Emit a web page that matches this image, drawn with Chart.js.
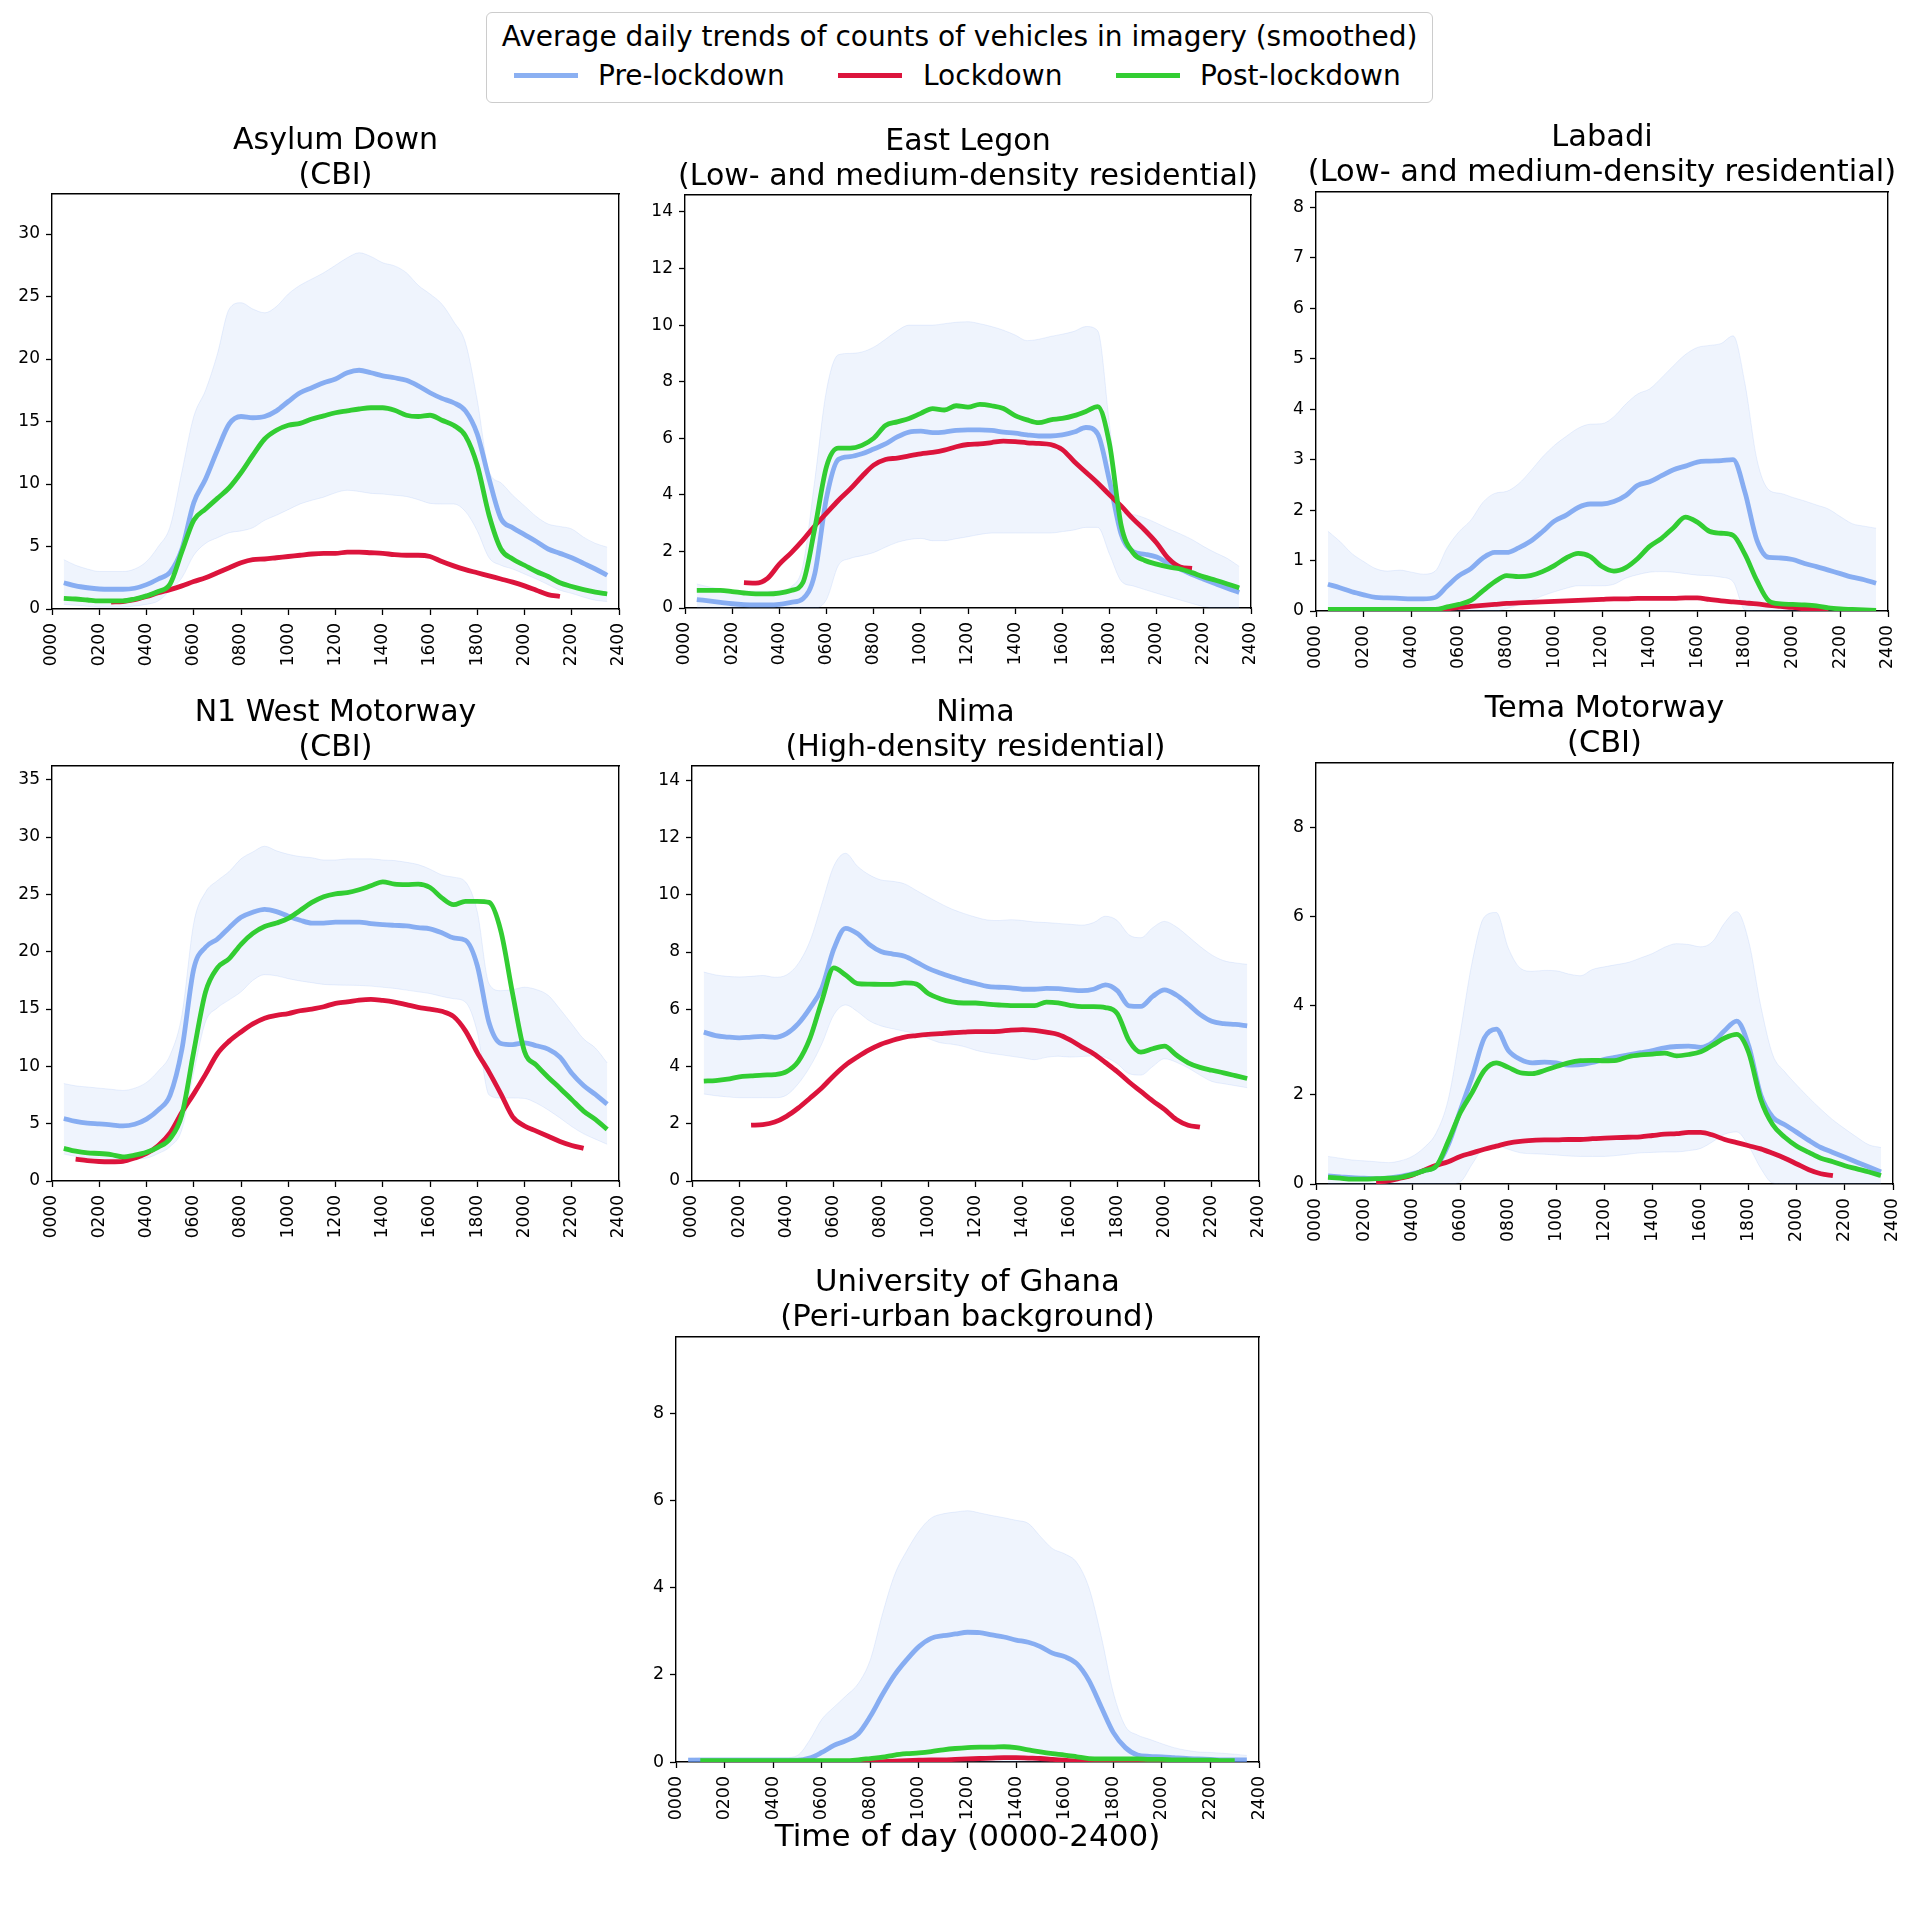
<!DOCTYPE html>
<html>
<head>
<meta charset="utf-8">
<script src="https://cdn.jsdelivr.net/npm/chart.js@4.4.1/dist/chart.umd.min.js"></script>
<style>
html,body{margin:0;padding:0;background:#fff;}
body{width:1920px;height:1920px;position:relative;overflow:hidden;font-family:'DejaVu Sans',sans-serif;}
canvas{position:absolute;}
#legend{position:absolute;left:486px;top:12px;width:947px;height:91px;box-sizing:border-box;border:1px solid #cccccc;border-radius:6px;background:#fff;}
#legend .lt{position:absolute;left:0;top:7px;width:100%;text-align:center;font-size:28px;line-height:34px;color:#000;white-space:nowrap;}
#legend .sw{position:absolute;top:60px;width:64px;height:5px;}
#legend .ll{position:absolute;top:46px;font-size:28px;line-height:34px;color:#000;white-space:nowrap;}
</style>
</head>
<body>
<div id="legend"></div>
<script>
// ---------------- DATA ----------------
const hours = [0.5,1,1.5,2,2.5,3,3.5,4,4.5,5,5.5,6,6.5,7,7.5,8,8.5,9,9.5,10,10.5,11,11.5,12,12.5,13,13.5,14,14.5,15,15.5,16,16.5,17,17.5,18,18.5,19,19.5,20,20.5,21,21.5,22,22.5,23,23.5];
const xTickLabels = ['0000','0200','0400','0600','0800','1000','1200','1400','1600','1800','2000','2200','2400'];
const seriesNames = ['Pre-lockdown','Lockdown','Post-lockdown'];
const legendTitle = 'Average daily trends of counts of vehicles in imagery (smoothed)';
const xAxisTitle = 'Time of day (0000-2400)';
const panelTitles = [
  ['Asylum Down','(CBI)'],
  ['East Legon','(Low- and medium-density residential)'],
  ['Labadi','(Low- and medium-density residential)'],
  ['N1 West Motorway','(CBI)'],
  ['Nima','(High-density residential)'],
  ['Tema Motorway','(CBI)'],
  ['University of Ghana','(Peri-urban background)']
];

// Asylum Down
const asylumPre  = [2.1,1.85,1.7,1.6,1.58,1.58,1.66,1.95,2.4,2.95,4.8,8.5,10.4,12.7,14.8,15.4,15.3,15.4,15.85,16.6,17.3,17.7,18.1,18.4,18.9,19.1,18.9,18.65,18.5,18.3,17.85,17.3,16.85,16.5,15.85,14.0,10.4,7.25,6.5,5.95,5.4,4.8,4.45,4.1,3.65,3.2,2.7];
const asylumLock = [null,null,null,null,0.55,0.6,0.75,1.0,1.3,1.55,1.85,2.2,2.5,2.9,3.3,3.7,3.95,4.0,4.1,4.2,4.3,4.4,4.45,4.45,4.55,4.55,4.5,4.45,4.35,4.3,4.3,4.2,3.8,3.45,3.15,2.9,2.65,2.4,2.15,1.85,1.5,1.15,1.0,null,null,null,null];
const asylumPost = [0.85,0.8,0.72,0.65,0.65,0.65,0.8,1.05,1.4,2.0,4.6,7.1,8.0,8.85,9.7,10.9,12.3,13.6,14.3,14.7,14.85,15.2,15.45,15.7,15.85,16.0,16.1,16.1,15.9,15.5,15.4,15.5,15.1,14.7,13.85,11.5,7.5,4.8,4.0,3.5,3.0,2.6,2.1,1.8,1.55,1.35,1.2];
const asylumHi   = [3.95,3.5,3.2,3.0,3.0,3.0,3.2,3.8,5.0,6.6,11.0,15.4,17.5,20.4,24.0,24.5,24.0,23.7,24.2,25.2,25.9,26.4,26.9,27.5,28.1,28.5,28.2,27.7,27.45,26.9,25.9,25.2,24.4,23.0,21.3,16.7,11.0,10.1,9.1,8.25,7.4,6.8,6.6,6.4,5.75,5.25,4.95];
const asylumLo   = [0.37,0.3,0.22,0.15,0.15,0.15,0.25,0.37,0.65,1.5,2.5,4.3,5.25,5.7,6.1,6.25,6.5,7.1,7.5,7.95,8.4,8.7,8.95,9.3,9.5,9.4,9.25,9.2,9.1,9.0,8.75,8.45,8.4,8.4,7.8,6.25,4.1,3.5,3.2,2.8,2.4,1.95,1.5,1.25,0.95,0.7,0.6];

// East Legon
const eastPre  = [0.3,0.25,0.2,0.15,0.12,0.11,0.11,0.13,0.2,0.33,1.2,3.9,5.25,5.35,5.45,5.62,5.8,6.05,6.22,6.25,6.2,6.22,6.28,6.3,6.3,6.28,6.22,6.18,6.12,6.08,6.08,6.12,6.22,6.38,6.15,4.5,2.6,2.0,1.9,1.8,1.58,1.38,1.18,1.02,0.86,0.7,0.55];
const eastLock = [null,null,null,null,0.9,0.88,1.05,1.55,1.95,2.4,2.9,3.35,3.8,4.2,4.65,5.05,5.25,5.3,5.38,5.45,5.5,5.58,5.7,5.78,5.8,5.85,5.9,5.88,5.84,5.82,5.78,5.6,5.18,4.8,4.42,4.0,3.6,3.15,2.75,2.3,1.75,1.45,1.4,null,null,null,null];
const eastPost = [0.62,0.62,0.62,0.58,0.53,0.5,0.5,0.53,0.62,0.9,2.8,5.0,5.65,5.65,5.75,6.0,6.45,6.58,6.7,6.88,7.05,7.0,7.15,7.1,7.2,7.15,7.05,6.8,6.65,6.55,6.65,6.7,6.8,6.95,7.12,5.8,2.9,1.95,1.68,1.55,1.45,1.38,1.25,1.1,0.98,0.85,0.71];
const eastHi   = [0.85,0.75,0.68,0.62,0.6,0.6,0.6,0.62,0.75,1.5,4.5,7.7,8.95,9.0,9.05,9.22,9.5,9.8,10.0,10.0,10.0,10.05,10.1,10.12,10.05,9.95,9.82,9.65,9.45,9.5,9.6,9.68,9.78,9.95,9.8,6.5,3.4,3.3,3.18,3.0,2.8,2.62,2.42,2.17,1.95,1.75,1.47];
const eastLo   = [0,0,0,0,0,0,0,0,0,0,0,0.3,1.5,1.75,1.85,1.96,2.15,2.32,2.42,2.46,2.38,2.38,2.45,2.52,2.6,2.65,2.65,2.65,2.65,2.65,2.65,2.7,2.76,2.85,2.85,1.9,0.95,0.78,0.65,0.52,0.4,0.28,0.16,0.05,0,0,0];

// Labadi
const labadiPre  = [0.53,0.46,0.38,0.32,0.27,0.26,0.25,0.24,0.24,0.27,0.49,0.7,0.84,1.05,1.16,1.16,1.25,1.38,1.57,1.78,1.9,2.05,2.12,2.12,2.17,2.29,2.49,2.56,2.68,2.8,2.87,2.95,2.97,2.98,3.0,2.35,1.4,1.06,1.05,1.02,0.94,0.88,0.81,0.74,0.67,0.62,0.55];
const labadiLock = [null,null,null,null,0,0,0,0,0,0.01,0.04,0.07,0.09,0.11,0.13,0.15,0.16,0.17,0.18,0.19,0.2,0.21,0.22,0.23,0.24,0.24,0.25,0.25,0.25,0.25,0.26,0.26,0.23,0.2,0.18,0.16,0.14,0.11,0.09,0.07,0.04,0.02,0.0,null,null,null,null];
const labadiPost = [0.03,0.03,0.03,0.03,0.03,0.03,0.03,0.03,0.03,0.03,0.08,0.13,0.21,0.4,0.58,0.7,0.68,0.7,0.78,0.9,1.05,1.14,1.08,0.88,0.79,0.86,1.04,1.28,1.44,1.65,1.86,1.76,1.58,1.54,1.5,1.12,0.6,0.2,0.14,0.13,0.12,0.1,0.06,0.04,0.03,0.02,0.01];
const labadiHi   = [1.58,1.38,1.14,0.98,0.84,0.79,0.81,0.77,0.73,0.79,1.25,1.57,1.8,2.15,2.33,2.37,2.52,2.77,3.05,3.28,3.46,3.62,3.7,3.71,3.85,4.1,4.3,4.4,4.62,4.86,5.08,5.22,5.26,5.3,5.45,4.5,3.0,2.4,2.33,2.25,2.18,2.1,2.02,1.87,1.73,1.68,1.64];
const labadiLo   = [0,0,0,0,0,0,0,0,0,0,0,0,0,0,0,0.05,0.12,0.2,0.3,0.38,0.45,0.5,0.5,0.5,0.53,0.65,0.72,0.77,0.78,0.77,0.74,0.71,0.7,0.67,0.58,0.02,0,0,0,0,0,0,0,0,0,0,0];

// N1 West Motorway
const n1Pre  = [5.45,5.2,5.05,4.98,4.9,4.8,4.95,5.4,6.2,7.5,11.5,18.5,20.4,21.1,22.1,23.0,23.45,23.7,23.5,23.1,22.75,22.5,22.5,22.58,22.58,22.58,22.45,22.36,22.3,22.25,22.1,22.0,21.65,21.2,21.0,18.8,13.8,12.0,11.9,12.05,11.8,11.5,10.8,9.4,8.33,7.55,6.7];
const n1Lock = [null,1.9,1.78,1.7,1.68,1.72,2.0,2.4,3.1,4.2,6.0,7.6,9.3,11.1,12.2,13.0,13.7,14.2,14.45,14.6,14.85,15.0,15.2,15.5,15.62,15.78,15.85,15.75,15.6,15.38,15.15,15.0,14.8,14.35,13.1,11.2,9.5,7.6,5.6,4.8,4.35,3.9,3.45,3.1,2.85,null,null];
const n1Post = [2.85,2.6,2.45,2.4,2.3,2.1,2.25,2.5,2.95,3.7,5.8,11.3,16.5,18.6,19.4,20.65,21.6,22.2,22.5,22.9,23.6,24.3,24.8,25.05,25.15,25.4,25.75,26.1,25.9,25.86,25.9,25.6,24.7,24.1,24.4,24.4,24.3,21.8,16.3,11.3,10.1,9.05,8.1,7.1,6.1,5.37,4.5];
const n1Hi   = [8.5,8.3,8.2,8.1,8.0,7.9,8.1,8.6,9.6,11.0,14.5,22.5,25.2,26.2,27.0,28.1,28.7,29.2,28.8,28.5,28.3,28.2,28.0,28.0,28.1,28.1,28.1,28.0,27.95,27.8,27.6,27.2,26.7,26.5,26.1,23.5,17.2,16.6,16.7,16.9,16.7,16.2,15.0,13.7,12.4,11.6,10.3];
const n1Lo   = [2.35,2.15,2.05,2.0,1.97,1.93,1.93,2.0,2.4,3.0,4.5,9.5,13.9,15.1,15.8,16.5,17.5,18.0,17.9,17.65,17.45,17.3,17.15,17.1,17.08,17.06,17.0,16.9,16.8,16.65,16.5,16.35,16.1,15.9,15.6,13.0,7.5,7.24,7.24,7.2,6.8,6.2,5.5,4.75,4.12,3.65,3.2];

// Nima
const nimaPre  = [5.2,5.08,5.03,5.0,5.03,5.05,5.02,5.15,5.5,6.05,6.75,8.1,8.83,8.65,8.27,8.02,7.93,7.85,7.65,7.43,7.27,7.13,7.0,6.9,6.8,6.77,6.75,6.7,6.7,6.73,6.72,6.68,6.65,6.7,6.85,6.65,6.12,6.1,6.45,6.68,6.5,6.18,5.82,5.58,5.5,5.47,5.42];
const nimaLock = [null,null,null,null,1.95,1.97,2.06,2.26,2.55,2.9,3.26,3.68,4.05,4.33,4.58,4.78,4.92,5.03,5.08,5.12,5.15,5.18,5.2,5.22,5.22,5.23,5.27,5.29,5.26,5.2,5.12,4.93,4.68,4.45,4.14,3.82,3.46,3.13,2.8,2.5,2.15,1.95,1.88,null,null,null,null];
const nimaPost = [3.49,3.51,3.56,3.64,3.67,3.7,3.72,3.82,4.18,5.0,6.3,7.45,7.2,6.9,6.88,6.87,6.87,6.92,6.88,6.55,6.37,6.26,6.22,6.22,6.18,6.15,6.13,6.13,6.13,6.25,6.22,6.14,6.09,6.09,6.06,5.85,4.9,4.5,4.62,4.71,4.4,4.13,3.97,3.87,3.78,3.68,3.58];
const nimaHi   = [7.3,7.2,7.15,7.13,7.15,7.18,7.12,7.2,7.6,8.4,9.7,11.0,11.45,11.0,10.7,10.52,10.47,10.38,10.15,9.92,9.7,9.5,9.35,9.22,9.12,9.1,9.13,9.1,9.05,9.03,9.0,8.97,8.94,9.03,9.25,9.1,8.6,8.5,8.85,9.07,8.88,8.55,8.2,7.9,7.7,7.62,7.57];
const nimaLo   = [3.04,2.98,2.94,2.91,2.91,2.91,2.91,3.0,3.4,4.0,4.8,5.8,6.15,5.92,5.6,5.42,5.32,5.23,5.14,4.98,4.83,4.78,4.7,4.57,4.48,4.42,4.36,4.3,4.24,4.32,4.36,4.33,4.35,4.37,4.32,4.1,3.75,3.7,4.0,4.27,4.15,3.95,3.7,3.48,3.4,3.33,3.26];

// Tema Motorway
const temaPre  = [0.18,0.16,0.14,0.13,0.12,0.13,0.17,0.23,0.3,0.4,0.88,1.65,2.42,3.28,3.48,3.0,2.8,2.72,2.74,2.72,2.67,2.68,2.73,2.8,2.85,2.9,2.95,3.0,3.06,3.09,3.1,3.07,3.18,3.45,3.66,3.1,2.0,1.5,1.33,1.16,0.98,0.82,0.71,0.6,0.49,0.38,0.27];
const temaLock = [null,null,null,null,0.05,0.07,0.13,0.2,0.31,0.42,0.5,0.62,0.7,0.78,0.85,0.92,0.96,0.98,0.99,0.99,1.0,1.0,1.02,1.03,1.04,1.05,1.06,1.09,1.12,1.13,1.16,1.16,1.1,1.0,0.93,0.86,0.79,0.69,0.58,0.45,0.32,0.23,0.19,null,null,null,null];
const temaPost = [0.15,0.13,0.11,0.11,0.12,0.13,0.15,0.21,0.3,0.4,0.96,1.6,2.06,2.55,2.72,2.62,2.5,2.48,2.55,2.64,2.72,2.77,2.78,2.77,2.78,2.86,2.9,2.92,2.94,2.88,2.91,2.97,3.12,3.28,3.36,2.95,1.9,1.33,1.05,0.85,0.71,0.58,0.5,0.41,0.34,0.27,0.19];
const temaHi   = [0.62,0.58,0.54,0.52,0.5,0.48,0.52,0.62,0.82,1.15,1.9,3.4,5.0,6.0,6.1,5.3,4.85,4.78,4.8,4.79,4.72,4.68,4.82,4.88,4.93,4.98,5.08,5.18,5.32,5.4,5.38,5.33,5.45,5.87,6.12,5.45,4.0,2.9,2.52,2.22,1.94,1.68,1.44,1.24,1.05,0.88,0.82];
const temaLo   = [0,0,0,0,0,0,0,0,0,0,0,0.05,0.45,0.82,0.86,0.78,0.7,0.68,0.67,0.65,0.63,0.62,0.62,0.62,0.64,0.67,0.7,0.71,0.72,0.72,0.75,0.8,0.95,1.12,1.17,0.85,0.35,0.02,0,0,0,0,0,0,0,0,0];

// University of Ghana
const ugPre  = [0.04,0.04,0.04,0.04,0.04,0.04,0.04,0.04,0.04,0.04,0.09,0.22,0.38,0.49,0.65,1.05,1.55,2.0,2.35,2.65,2.84,2.9,2.94,2.98,2.97,2.92,2.87,2.8,2.75,2.65,2.5,2.42,2.26,1.87,1.27,0.68,0.33,0.16,0.13,0.12,0.1,0.08,0.07,0.06,0.05,0.05,0.05];
const ugLock = [null,null,null,null,0,0,0,0,0,0,0,0,0,0,0,0,0.01,0.02,0.03,0.04,0.05,0.05,0.06,0.07,0.08,0.09,0.1,0.1,0.09,0.08,0.06,0.04,0.02,0.01,0,0.01,0.02,0.01,0,0,0,0,0,null,null,null,null];
const ugPost = [null,0.03,0.03,0.03,0.03,0.03,0.03,0.03,0.03,0.03,0.03,0.03,0.03,0.03,0.05,0.08,0.11,0.16,0.19,0.21,0.24,0.28,0.31,0.33,0.34,0.34,0.35,0.33,0.28,0.23,0.19,0.16,0.12,0.08,0.07,0.07,0.07,0.07,0.06,0.06,0.05,0.05,0.04,0.04,0.03,0.03,null];
const ugHi   = [0.09,0.1,0.1,0.1,0.1,0.1,0.1,0.1,0.1,0.15,0.5,0.98,1.26,1.52,1.8,2.35,3.4,4.3,4.85,5.3,5.6,5.7,5.74,5.77,5.72,5.66,5.61,5.55,5.48,5.18,4.9,4.78,4.58,4.0,2.9,1.6,0.82,0.62,0.52,0.42,0.33,0.27,0.23,0.22,0.2,0.18,0.15];
const ugLo   = [0,0,0,0,0,0,0,0,0,0,0,0,0,0,0,0,0,0,0,0,0,0,0,0,0,0,0,0,0,0,0,0,0,0,0,0,0,0,0,0,0,0,0,0,0,0,0];

// y-axis ranges per panel
const yMaxes = [33.2, 14.6, 8.3, 36.2, 14.5, 9.46, 9.76];
const ySteps = [5, 2, 1, 5, 2, 2, 2];

// ---------------- LAYOUT / STYLE ----------------
const FONT = 'DejaVu Sans';
const BLUE = 'rgba(100,149,237,0.75)';
const RED = '#dc143c';
const GREEN = '#32cd32';
const BAND = 'rgba(100,149,237,0.1)';
const BAND_EDGE = 'rgba(100,149,237,0.13)';
const LW = 4.8;
const YW = 50;
const boxes = [
  {L:52,  T:194, R:619,  B:609,  s:1},
  {L:685, T:195, R:1251, B:608,  s:1},
  {L:1316,T:192, R:1888, B:611,  s:1.015},
  {L:52,  T:766, R:619,  B:1181, s:1},
  {L:692, T:766, R:1259, B:1181, s:1},
  {L:1316,T:763, R:1893, B:1184, s:1.015},
  {L:676, T:1337,R:1259, B:1762, s:1.025}
];

Chart.defaults.font.family = FONT;

// legend (figure level)
(function(){
  const lg = document.getElementById('legend');
  const t = document.createElement('div'); t.className='lt'; t.textContent = legendTitle; lg.appendChild(t);
  const cols = [BLUE, RED, GREEN];
  const swX = [27, 351, 629], txX = [111, 436, 713];
  seriesNames.forEach((n,i)=>{
    const s = document.createElement('div'); s.className='sw'; s.style.left = swX[i]+'px'; s.style.background = cols[i]; lg.appendChild(s);
    const l = document.createElement('div'); l.className='ll'; l.style.left = txX[i]+'px'; l.textContent = n; lg.appendChild(l);
  });
})();

function makePanel(idx, pre, lock, post, hi, lo, showXTitle){
  [pre,lock,post,hi,lo].forEach(a=>{ if(a.length!==hours.length) throw new Error('bad length panel '+idx); });
  const g = boxes[idx];
  const titleSize = 30*g.s, lineH = 34.5*g.s;
  const TB = Math.round(2*lineH + 3);
  const XH = showXTitle ? 95 : 60;
  const w = (g.R - g.L) + 2*YW, h = TB + (g.B - g.T) + XH;
  const c = document.createElement('canvas');
  c.width = w; c.height = h;
  c.style.left = (g.L - YW) + 'px'; c.style.top = (g.T - TB) + 'px';
  c.style.width = w + 'px'; c.style.height = h + 'px';
  document.body.appendChild(c);
  const pts = v => hours.map((x,i)=>({x:x, y:v[i]}));
  const line = (label, v, col) => ({label, data:pts(v), borderColor:col, backgroundColor:col, borderWidth:LW, pointRadius:0, fill:false, cubicInterpolationMode:'monotone', spanGaps:false, borderJoinStyle:'round'});
  const tickFont = {family:FONT, size:17*g.s};
  const gridOpts = {drawOnChartArea:false, drawTicks:true, tickLength:6, tickWidth:1.3, tickColor:'#000'};
  const borderOpts = {display:true, color:'#000', width:1.4};
  new Chart(c, {
    type:'line',
    data:{datasets:[
      line(seriesNames[2], post, GREEN),
      line(seriesNames[1], lock, RED),
      line(seriesNames[0], pre, BLUE),
      {label:seriesNames[0]+' upper', data:pts(hi), borderColor:BAND_EDGE, borderWidth:1, pointRadius:0, fill:'+1', backgroundColor:BAND, cubicInterpolationMode:'monotone'},
      {label:seriesNames[0]+' lower', data:pts(lo), borderColor:BAND_EDGE, borderWidth:1, pointRadius:0, fill:false, cubicInterpolationMode:'monotone'}
    ]},
    options:{
      responsive:false, animation:false, devicePixelRatio:1,
      layout:{padding:0},
      events:[],
      plugins:{
        legend:{display:false}, tooltip:{enabled:false},
        title:{display:true, text:panelTitles[idx], color:'#000', font:{family:FONT, size:titleSize, weight:'normal', lineHeight:lineH/titleSize}, padding:{top:2, bottom:TB - 2*lineH - 2}}
      },
      scales:{
        x:{type:'linear', position:'bottom', min:0, max:24,
           afterFit:s=>{s.height = XH;},
           ticks:{stepSize:2, autoSkip:false, maxRotation:90, minRotation:90, padding:8, color:'#000', font:tickFont,
                  callback:v=>xTickLabels[Math.round(v/2)]},
           grid:gridOpts, border:borderOpts,
           title:{display:!!showXTitle, text:xAxisTitle, color:'#000', font:{family:FONT, size:31}, padding:0}},
        xTop:{type:'linear', position:'top', min:0, max:24, afterFit:s=>{s.height = 0;},
           ticks:{display:false}, grid:{display:false}, border:borderOpts},
        y:{type:'linear', position:'left', min:0, max:yMaxes[idx],
           afterFit:s=>{s.width = YW;},
           ticks:{stepSize:ySteps[idx], includeBounds:false, padding:6, color:'#000', font:tickFont},
           grid:gridOpts, border:borderOpts},
        yRight:{type:'linear', position:'right', min:0, max:yMaxes[idx], afterFit:s=>{s.width = YW;},
           ticks:{display:false}, grid:{display:false}, border:borderOpts}
      }
    }
  });
}

makePanel(0, asylumPre, asylumLock, asylumPost, asylumHi, asylumLo, false);
makePanel(1, eastPre, eastLock, eastPost, eastHi, eastLo, false);
makePanel(2, labadiPre, labadiLock, labadiPost, labadiHi, labadiLo, false);
makePanel(3, n1Pre, n1Lock, n1Post, n1Hi, n1Lo, false);
makePanel(4, nimaPre, nimaLock, nimaPost, nimaHi, nimaLo, false);
makePanel(5, temaPre, temaLock, temaPost, temaHi, temaLo, false);
makePanel(6, ugPre, ugLock, ugPost, ugHi, ugLo, true);
</script>
</body>
</html>
